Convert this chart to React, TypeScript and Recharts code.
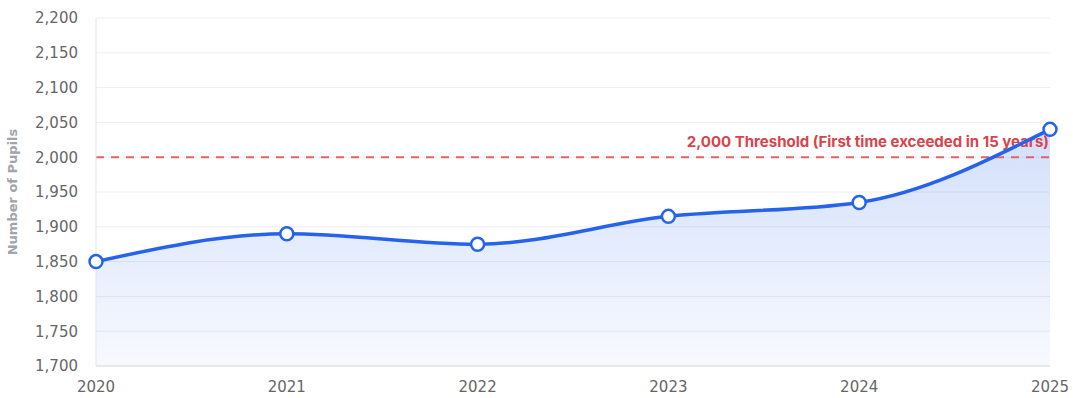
import React from "react";
import {
  ComposedChart,
  Area,
  Line,
  XAxis,
  YAxis,
  CartesianGrid,
  ReferenceLine,
} from "recharts";

const years = ["2020", "2021", "2022", "2023", "2024", "2025"];
const pupils = [1850, 1890, 1875, 1915, 1935, 2040];
const yTicks = [1700, 1750, 1800, 1850, 1900, 1950, 2000, 2050, 2100, 2150, 2200];
const thresholdValue = 2000;
const thresholdLabel = "2,000 Threshold (First time exceeded in 15 years)";
const yAxisTitle = "Number of Pupils";

const data = years.map((y, i) => ({ year: y, pupils: pupils[i] }));

const fmt = (v: number) => v.toLocaleString("en-US");

const tickFont = "'DejaVu Sans', Verdana, sans-serif";

const ThresholdLabel = (props: any) => {
  const vb = props.viewBox || {};
  const x = (vb.x || 0) + (vb.width || 0) - 1;
  const y = (vb.y || 0) - 10;
  return (
    <text
      x={x}
      y={y}
      textAnchor="end"
      fill="#d9434b"
      fontSize={15}
      fontWeight={700}
      fontFamily="Inter, 'Liberation Sans', Arial, sans-serif"
    >
      {thresholdLabel}
    </text>
  );
};

export default function App() {
  return (
    <div style={{ position: "absolute", left: 0, top: 0, width: 1073, height: 398, background: "#fff" }}>
      <ComposedChart
        width={1073}
        height={398}
        data={data}
        margin={{ top: 18, right: 23, bottom: 0, left: 0 }}
      >
        <defs>
          <linearGradient id="areaFill" x1="0" y1="0" x2="0" y2="1">
            <stop offset="0%" stopColor="#2563eb" stopOpacity={0.34} />
            <stop offset="100%" stopColor="#2563eb" stopOpacity={0.06} />
          </linearGradient>
        </defs>
        <CartesianGrid vertical={false} stroke="#eeeeee" />
        <XAxis
          dataKey="year"
          height={32}
          tickLine={false}
          axisLine={{ stroke: "#dddddd" }}
          tick={{ fill: "#666666", fontSize: 15, fontFamily: tickFont }}
          tickMargin={9}
          interval={0}
        />
        <YAxis
          width={96}
          domain={[1700, 2200]}
          ticks={yTicks}
          tickFormatter={fmt}
          tickLine={false}
          axisLine={{ stroke: "#e5e5e5" }}
          tick={{ fill: "#666666", fontSize: 15, fontFamily: tickFont }}
          tickMargin={12}
          interval={0}
          label={{
            value: yAxisTitle,
            angle: -90,
            position: "insideLeft",
            offset: 12,
            style: {
              fill: "#a0a4ab",
              fontSize: 13,
              fontWeight: 700,
              fontFamily: tickFont,
              textAnchor: "middle",
            },
          }}
        />
        <Area
          type="monotone"
          dataKey="pupils"
          stroke="none"
          fill="url(#areaFill)"
          baseValue={1700}
          isAnimationActive={false}
        />
        <ReferenceLine
          y={thresholdValue}
          stroke="#e06666"
          strokeWidth={2}
          strokeDasharray="8 7"
          label={<ThresholdLabel />}
        />
        <Line
          type="monotone"
          dataKey="pupils"
          stroke="#2563eb"
          strokeWidth={3.5}
          dot={{ r: 6.5, fill: "#ffffff", stroke: "#2563eb", strokeWidth: 2.5 }}
          activeDot={false}
          isAnimationActive={false}
        />
      </ComposedChart>
    </div>
  );
}
